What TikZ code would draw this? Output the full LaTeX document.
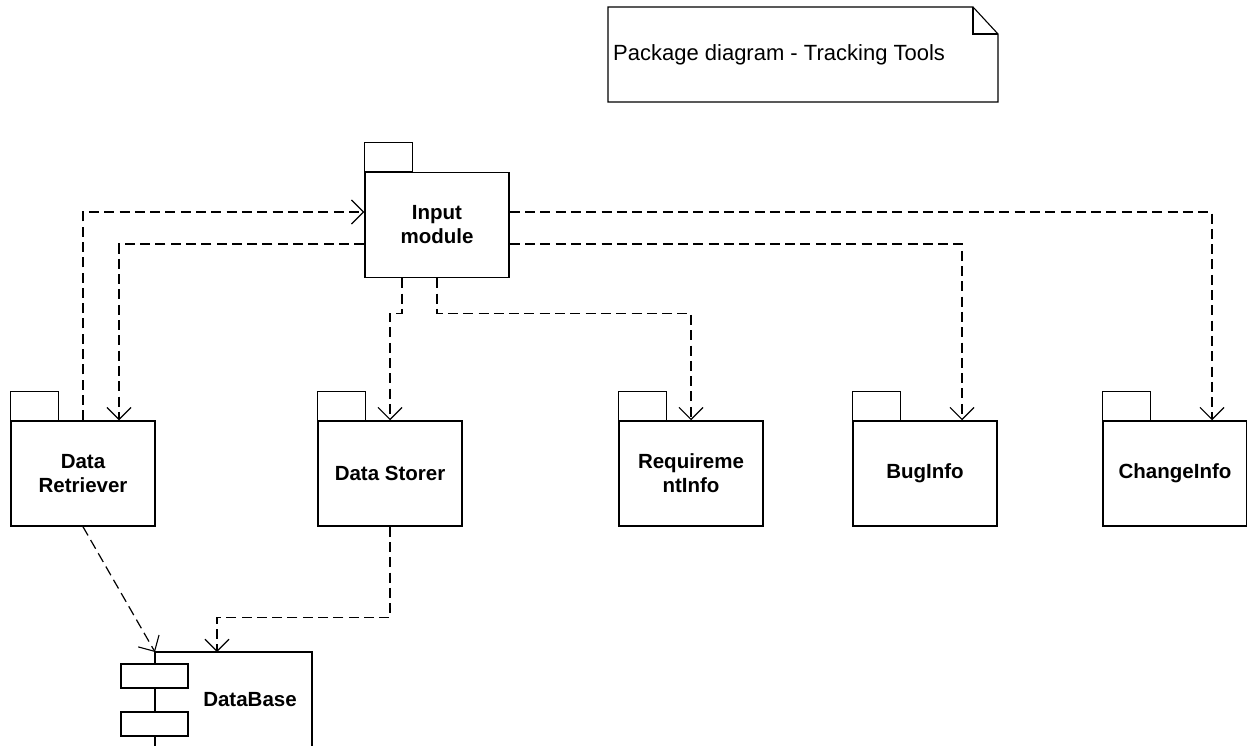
\documentclass[tikz,border=0pt]{standalone}
\usepackage{fontspec}
\setmainfont{Liberation Sans}
\usetikzlibrary{arrows.meta,positioning,calc}
\tikzstyle{package}=[draw,line width=1.5pt,minimum width=144pt,minimum height=105pt,inner sep=0pt,align=center,font=\fontsize{20.5}{24}\selectfont\bfseries]
\tikzstyle{dep}=[line width=1.2pt,dash pattern=on 10pt off 5.3pt,-{Straight Barb[length=12pt,width=24pt,line width=1.1pt]}]
\tikzstyle{frame}=[line width=1.5pt]

\begin{document}
\begin{tikzpicture}[x=1pt,y=-1pt]
\useasboundingbox (0,0) rectangle (1247,746);
% note
\draw[line width=1.1pt] (608,7) -- (973,7) -- (998,34) -- (998,102) -- (608,102) -- cycle;
\draw[line width=1.1pt] (973,7) |- (998,34);
\node[anchor=west,inner sep=0pt,font=\fontsize{22}{24}\selectfont] (title) at (613,55) {Package diagram - Tracking Tools};

% packages
\node[package] (input) at (437,225) {Input\\module};
\node[package] (retr) at (83,473.5) {Data\\Retriever};
\node[package] (store) at (390,473.5) {Data Storer};
\node[package] (req) at (691,473.5) {Requireme\\ntInfo};
\node[package] (bug) at (925,473.5) {BugInfo};
\node[package] (change) at (1175,473.5) {ChangeInfo};
\foreach \n in {input,retr,store,req,bug,change}
  \draw[frame] (\n.north west) rectangle ++(48,-29);

% database
\coordinate (db) at (155,652);
\coordinate (dbtop) at (217,652);
\draw[frame] (155,746) |- (312,652) -- (312,746);
\draw[frame,fill=white] (121,664) rectangle (188,688);
\draw[frame,fill=white] (121,712) rectangle (188,736);
\node[font=\fontsize{20.5}{24}\selectfont\bfseries] (dbname) at (250,700) {DataBase};

% dependencies
\draw[dep] (retr.north) |- ($(input.west)+(0,-13)$);
\draw[dep] ($(input.west)+(0,19)$) -| ($(retr.north)+(36,0)$);
\draw[dep] ($(input.east)+(0,-13)$) -| ($(change.north)+(37,0)$);
\draw[dep] ($(input.east)+(0,19)$) -| ($(bug.north)+(37,0)$);
\draw[dep] ($(input.south)+(-35,0)$) -- ++(0,35) -| (store.north);
\draw[dep] (input.south) -- ++(0,35) -| (req.north);
\draw[dep] (retr.south) -- (db);
\draw[dep] (store.south) -- ++(0,91) -| (dbtop);
\end{tikzpicture}
\end{document}
